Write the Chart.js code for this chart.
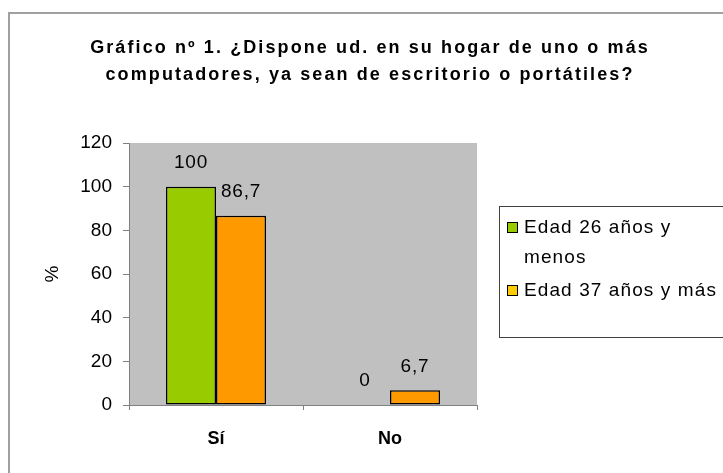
<!DOCTYPE html>
<html>
<head>
<meta charset="utf-8">
<script src="https://cdn.jsdelivr.net/npm/chart.js@4.4.1/dist/chart.umd.min.js"></script>
<style>
html,body{margin:0;padding:0;background:#fff;}
#wrap{width:723px;height:473px;position:relative;}
</style>
</head>
<body>
<div id="wrap"><canvas id="c" width="723" height="473"></canvas></div>
<script>
const titleLines = ["Gráfico nº 1. ¿Dispone ud. en su hogar de uno o más", "computadores, ya sean de escritorio o portátiles?"];
const categories = ["Sí", "No"];
const seriesNames = ["Edad 26 años y menos", "Edad 37 años y más"];
const youngValues = [100, 0];
const olderValues = [86.7, 6.7];
const yTicks = [0, 20, 40, 60, 80, 100, 120];
const yAxisTitle = "%";

const barColors = ["#99CC00", "#FF9900"];
const legendColors = ["#99CC00", "#FFCC00"];
const FONT = "'Liberation Sans', Arial, sans-serif";

const decor = {
  id: 'decor',
  beforeDraw(chart) {
    const ctx = chart.ctx, a = chart.chartArea;
    ctx.save();
    ctx.fillStyle = '#fff';
    ctx.fillRect(0, 0, chart.width, chart.height);
    ctx.strokeStyle = '#A0A0A0';
    ctx.lineWidth = 2;
    ctx.strokeRect(9, 13, 800, 600);
    ctx.fillStyle = '#C0C0C0';
    ctx.fillRect(a.left, a.top, a.right - a.left, a.bottom - a.top);
    ctx.restore();
  },
  afterDraw(chart) {
    const ctx = chart.ctx;
    ctx.save();
    // title
    ctx.fillStyle = '#000';
    ctx.font = "bold 18px " + FONT;
    ctx.letterSpacing = '2.1px';
    ctx.textAlign = 'center';
    ctx.textBaseline = 'middle';
    titleLines.forEach((t, i) => ctx.fillText(t, 370, 48 + i * 27));
    // legend
    ctx.letterSpacing = '1.1px';
    ctx.strokeStyle = '#404040';
    ctx.lineWidth = 1;
    ctx.strokeRect(499.5, 206.5, 300, 131);
    ctx.font = "19px " + FONT;
    ctx.textAlign = 'left';
    const rows = [[seriesNames[0].replace(' menos',''), 'menos'], [seriesNames[1]]];
    let y = 228;
    rows.forEach((lines, i) => {
      ctx.fillStyle = legendColors[i];
      ctx.fillRect(507, y - 6, 11, 11);
      ctx.strokeStyle = '#000';
      ctx.strokeRect(507.5, y - 5.5, 10, 10);
      ctx.fillStyle = '#000';
      lines.forEach((l, j) => ctx.fillText(l, 524, y + j * 30));
      y += lines.length * 30 + 3;
    });
    // data labels
    ctx.letterSpacing = '0.8px';
    ctx.textAlign = 'center';
    ctx.textBaseline = 'middle';
    ctx.font = "19px " + FONT;
    chart.data.datasets.forEach((ds, di) => {
      chart.getDatasetMeta(di).data.forEach((bar, i) => {
        const v = ds.data[i];
        ctx.fillText(String(v).replace('.', ','), bar.x, bar.y - 24);
      });
    });
    ctx.restore();
  }
};

new Chart(document.getElementById('c'), {
  type: 'bar',
  data: {
    labels: categories,
    datasets: [
      { label: seriesNames[0], data: youngValues, backgroundColor: barColors[0], borderColor: '#000', borderWidth: 1.5, borderSkipped: false },
      { label: seriesNames[1], data: olderValues, backgroundColor: barColors[1], borderColor: '#000', borderWidth: 1.5, borderSkipped: false }
    ]
  },
  options: {
    responsive: false,
    animation: false,
    events: [],
    layout: { padding: { left: 0, top: 143, right: 246, bottom: 28 } },
    plugins: { legend: { display: false }, title: { display: false }, tooltip: { enabled: false } },
    datasets: { bar: { categoryPercentage: 0.575, barPercentage: 1 } },
    scales: {
      x: {
        afterFit(s) { s.height = 40; },
        grid: { display: true, drawOnChartArea: false, offset: true, tickLength: 5, tickColor: '#808080', lineWidth: 1 },
        border: { color: '#808080', width: 1 },
        ticks: { color: '#000', font: { family: FONT, size: 18, weight: 'bold' }, padding: 18 }
      },
      y: {
        min: 0, max: 120,
        afterFit(s) { s.width = 129; },
        afterBuildTicks(s) { s.ticks = yTicks.map(v => ({ value: v })); },
        grid: { display: true, drawOnChartArea: false, tickLength: 6, tickColor: '#808080' },
        border: { color: '#808080', width: 1 },
        ticks: { color: '#000', font: { family: FONT, size: 19 }, padding: 11 },
        title: { display: true, text: yAxisTitle, color: '#000', font: { family: FONT, size: 19 }, padding: { top: 41, bottom: 0 } }
      }
    }
  },
  plugins: [decor]
});
</script>
</body>
</html>
